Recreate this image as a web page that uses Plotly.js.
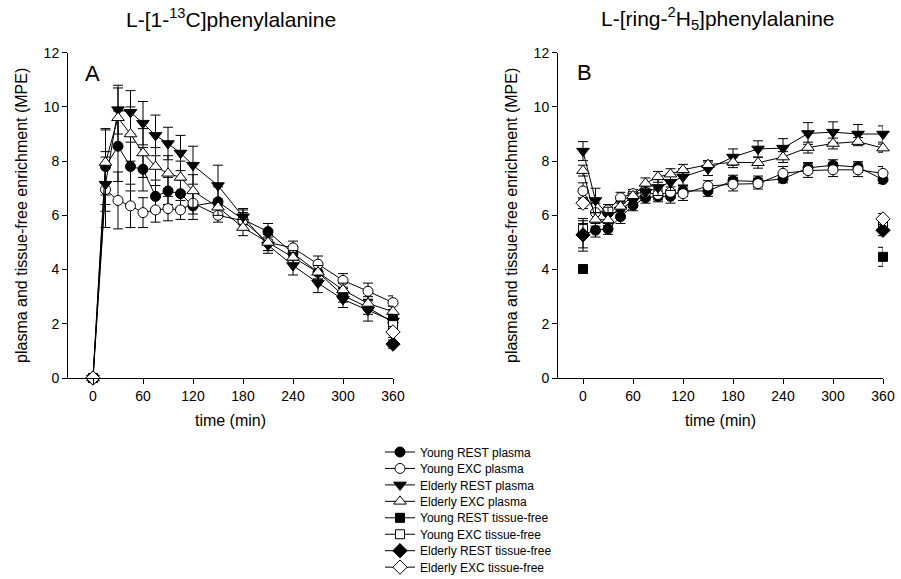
<!DOCTYPE html>
<html>
<head>
<meta charset="utf-8">
<script src="https://cdn.plot.ly/plotly-3.0.1.min.js"></script>
<style>html,body{margin:0;padding:0;background:#fff;}#chart{width:901px;height:579px;}</style>
</head>
<body>
<div id="chart"></div>
<script>
// ---- Data ----
const times = [0, 15, 30, 45, 60, 75, 90, 105, 120, 150, 180, 210, 240, 270, 300, 330, 360];
const tfTimes = [0, 360];
const xTicks = [0, 60, 120, 180, 240, 300, 360];
const yTicks = [0, 2, 4, 6, 8, 10, 12];

const seriesNames = ["Young REST plasma", "Young EXC plasma", "Elderly REST plasma", "Elderly EXC plasma",
  "Young REST tissue-free", "Young EXC tissue-free", "Elderly REST tissue-free", "Elderly EXC tissue-free"];

// Panel A: L-[1-13C]phenylalanine
const A_youngRest = [0, 7.8, 8.55, 7.8, 7.7, 6.7, 6.9, 6.8, 6.35, 6.5, 5.85, 5.4, 4.6, 3.9, 3.05, 2.6, 2.05];
const A_youngRestErr = [0, 1.4, 1.3, 0.9, 0.8, 0.6, 0.5, 0.5, 0.5, 0.55, 0.35, 0.3, 0.25, 0.25, 0.25, 0.25, 0.2];
const A_youngExc = [0, 6.95, 6.55, 6.35, 6.1, 6.2, 6.25, 6.2, 6.45, 6.0, 5.8, 5.0, 4.8, 4.2, 3.6, 3.2, 2.78];
const A_youngExcErr = [0, 1.4, 1.05, 0.8, 0.55, 0.45, 0.45, 0.35, 0.4, 0.25, 0.3, 0.3, 0.25, 0.3, 0.25, 0.3, 0.25];
const A_elderlyRest = [0, 7.15, 9.9, 9.8, 9.4, 8.95, 8.65, 8.3, 7.85, 7.1, 5.95, 4.9, 4.15, 3.5, 2.9, 2.5, 2.1];
const A_elderlyRestErr = [0, 1.0, 0.9, 0.8, 0.8, 0.75, 0.6, 0.65, 0.7, 0.75, 0.3, 0.3, 0.35, 0.35, 0.3, 0.4, 0.3];
const A_elderlyExc = [0, 7.95, 9.6, 9.0, 8.3, 7.8, 7.55, 7.4, 6.9, 6.3, 5.55, 5.0, 4.45, 3.9, 3.25, 2.75, 2.45];
const A_elderlyExcErr = [0, 1.2, 1.1, 1.0, 0.9, 0.7, 0.65, 0.6, 0.6, 0.3, 0.3, 0.3, 0.25, 0.25, 0.25, 0.25, 0.2];
const A_tfYoungRest = [0, 2.15];
const A_tfYoungRestErr = [0, 0.2];
const A_tfYoungExc = [0, 1.95];
const A_tfYoungExcErr = [0, 0.2];
const A_tfElderlyRest = [0, 1.25];
const A_tfElderlyRestErr = [0, 0.15];
const A_tfElderlyExc = [0, 1.7];
const A_tfElderlyExcErr = [0, 0.2];

// Panel B: L-[ring-2H5]phenylalanine
const B_youngRest = [5.3, 5.45, 5.5, 5.95, 6.37, 6.65, 6.7, 6.7, 6.9, 6.9, 7.28, 7.25, 7.35, 7.75, 7.85, 7.78, 7.32];
const B_youngRestErr = [0.5, 0.25, 0.2, 0.25, 0.2, 0.2, 0.2, 0.25, 0.2, 0.2, 0.2, 0.2, 0.15, 0.2, 0.2, 0.2, 0.15];
const B_youngExc = [6.9, 6.1, 6.2, 6.65, 6.8, 6.85, 6.77, 6.85, 6.8, 7.08, 7.15, 7.17, 7.55, 7.65, 7.68, 7.68, 7.55];
const B_youngExcErr = [0.3, 0.35, 0.2, 0.2, 0.15, 0.2, 0.2, 0.2, 0.25, 0.2, 0.25, 0.2, 0.25, 0.25, 0.25, 0.25, 0.25];
const B_elderlyRest = [8.37, 6.55, 6.0, 6.2, 6.55, 6.85, 7.03, 7.22, 7.42, 7.72, 8.15, 8.45, 8.48, 9.02, 9.07, 9.0, 9.0];
const B_elderlyRestErr = [0.35, 0.45, 0.3, 0.3, 0.25, 0.3, 0.3, 0.3, 0.3, 0.25, 0.3, 0.3, 0.35, 0.4, 0.38, 0.35, 0.3];
const B_elderlyExc = [7.65, 5.85, 5.83, 6.33, 6.72, 7.18, 7.42, 7.52, 7.68, 7.87, 7.96, 7.94, 8.15, 8.5, 8.65, 8.72, 8.48];
const B_elderlyExcErr = [0.2, 0.25, 0.2, 0.2, 0.15, 0.2, 0.2, 0.2, 0.2, 0.15, 0.2, 0.2, 0.2, 0.2, 0.2, 0.15, 0.15];
const B_tfYoungRest = [4.02, 4.47];
const B_tfYoungRestErr = [0.1, 0.35];
const B_tfYoungExc = [5.5, 5.6];
const B_tfYoungExcErr = [0.2, 0.2];
const B_tfElderlyRest = [5.28, 5.45];
const B_tfElderlyRestErr = [0.6, 0.2];
const B_tfElderlyExc = [6.45, 5.87];
const B_tfElderlyExcErr = [0.2, 0.2];

// ---- Styles ----
const FONT = "Arial, 'Liberation Sans', Helvetica, sans-serif";
const styles = [
  {symbol: 'circle', color: 'black', size: 10},
  {symbol: 'circle', color: 'white', size: 10},
  {symbol: 'triangle-down', color: 'black', size: 11},
  {symbol: 'triangle-up', color: 'white', size: 11},
  {symbol: 'square', color: 'black', size: 9},
  {symbol: 'square', color: 'white', size: 9},
  {symbol: 'diamond', color: 'black', size: 11},
  {symbol: 'diamond', color: 'white', size: 11}
];

function plasmaTrace(i, y, err, xa, ya, show) {
  const s = styles[i];
  return {
    type: 'scatter', mode: 'lines+markers', name: seriesNames[i],
    x: times, y: y, xaxis: xa, yaxis: ya, showlegend: show, legendgroup: 'g' + i,
    cliponaxis: false,
    line: {color: 'black', width: 1},
    marker: {symbol: s.symbol, color: s.color, size: s.size, line: {color: 'black', width: 1}},
    error_y: {type: 'data', array: err, visible: true, color: 'black', thickness: 1, width: 5}
  };
}
// tissue-free values exist only at the start and end; a null between them keeps them unconnected
function tfTrace(i, y, err, xa, ya, show) {
  const s = styles[i];
  return {
    type: 'scatter', mode: 'lines+markers', name: seriesNames[i],
    x: [tfTimes[0], tfTimes[1], tfTimes[1]], y: [y[0], null, y[1]],
    xaxis: xa, yaxis: ya, showlegend: show, legendgroup: 'g' + i,
    cliponaxis: false, connectgaps: false,
    line: {color: 'black', width: 1},
    marker: {symbol: s.symbol, color: s.color, size: s.size, line: {color: 'black', width: 1}},
    error_y: {type: 'data', array: [err[0], null, err[1]], visible: true, color: 'black', thickness: 1, width: 5}
  };
}

const data = [
  plasmaTrace(0, A_youngRest, A_youngRestErr, 'x', 'y', true),
  plasmaTrace(1, A_youngExc, A_youngExcErr, 'x', 'y', true),
  plasmaTrace(2, A_elderlyRest, A_elderlyRestErr, 'x', 'y', true),
  plasmaTrace(3, A_elderlyExc, A_elderlyExcErr, 'x', 'y', true),
  tfTrace(4, A_tfYoungRest, A_tfYoungRestErr, 'x', 'y', true),
  tfTrace(5, A_tfYoungExc, A_tfYoungExcErr, 'x', 'y', true),
  tfTrace(6, A_tfElderlyRest, A_tfElderlyRestErr, 'x', 'y', true),
  tfTrace(7, A_tfElderlyExc, A_tfElderlyExcErr, 'x', 'y', true),
  plasmaTrace(0, B_youngRest, B_youngRestErr, 'x2', 'y2', false),
  plasmaTrace(1, B_youngExc, B_youngExcErr, 'x2', 'y2', false),
  plasmaTrace(2, B_elderlyRest, B_elderlyRestErr, 'x2', 'y2', false),
  plasmaTrace(3, B_elderlyExc, B_elderlyExcErr, 'x2', 'y2', false),
  tfTrace(4, B_tfYoungRest, B_tfYoungRestErr, 'x2', 'y2', false),
  tfTrace(5, B_tfYoungExc, B_tfYoungExcErr, 'x2', 'y2', false),
  tfTrace(6, B_tfElderlyRest, B_tfElderlyRestErr, 'x2', 'y2', false),
  tfTrace(7, B_tfElderlyExc, B_tfElderlyExcErr, 'x2', 'y2', false)
];

const W = 901, H = 579;
const axisBase = {
  showline: true, linecolor: 'black', linewidth: 1, mirror: false,
  ticks: 'outside', ticklen: 5, tickwidth: 1, tickcolor: 'black',
  showgrid: false, zeroline: false, automargin: false,
  tickfont: {family: FONT, size: 14, color: 'black'}
};
const yDomain = [(H - 378) / H, (H - 52.7) / H];
const xTitle = {text: 'time (min)', font: {family: FONT, size: 16, color: 'black'}, standoff: 12};
const yTitle = {text: 'plasma and tissue-free enrichment (MPE)', font: {family: FONT, size: 16, color: 'black'}, standoff: 12};

const layout = {
  width: W, height: H,
  margin: {l: 0, r: 0, t: 0, b: 0, autoexpand: false},
  paper_bgcolor: 'white', plot_bgcolor: 'white',
  font: {family: FONT, color: 'black'},
  showlegend: true,
  legend: {x: 380 / W, xanchor: 'left', y: 1 - 425 / H, yanchor: 'top',
    font: {family: FONT, size: 12, color: 'black'}, bgcolor: 'rgba(0,0,0,0)', borderwidth: 0, tracegroupgap: 0},
  xaxis: Object.assign({}, axisBase, {domain: [68 / W, 393 / W], range: [-30, 360], tickvals: xTicks, anchor: 'y', title: xTitle}),
  yaxis: Object.assign({}, axisBase, {domain: yDomain, range: [0, 12], tickvals: yTicks, anchor: 'x', title: yTitle}),
  xaxis2: Object.assign({}, axisBase, {domain: [558 / W, 883 / W], range: [-30, 360], tickvals: xTicks, anchor: 'y2', title: xTitle}),
  yaxis2: Object.assign({}, axisBase, {domain: yDomain, range: [0, 12], tickvals: yTicks, anchor: 'x2', title: yTitle}),
  annotations: [
    {xref: 'paper', yref: 'paper', x: 231 / W, y: 1 - 18 / H, xanchor: 'center', yanchor: 'middle', showarrow: false,
     text: 'L-[1-<sup>13</sup>C]phenylalanine', font: {family: FONT, size: 21, color: 'black'}},
    {xref: 'paper', yref: 'paper', x: 717.5 / W, y: 1 - 18 / H, xanchor: 'center', yanchor: 'middle', showarrow: false,
     text: 'L-[ring-<sup>2</sup>H<sub>5</sub>]phenylalanine', font: {family: FONT, size: 21, color: 'black'}},
    {xref: 'paper', yref: 'paper', x: 92.5 / W, y: 1 - 73.5 / H, xanchor: 'center', yanchor: 'middle', showarrow: false,
     text: 'A', font: {family: FONT, size: 22, color: 'black'}},
    {xref: 'paper', yref: 'paper', x: 584.5 / W, y: 1 - 72.5 / H, xanchor: 'center', yanchor: 'middle', showarrow: false,
     text: 'B', font: {family: FONT, size: 22, color: 'black'}}
  ]
};

Plotly.newPlot('chart', data, layout, {staticPlot: true, displayModeBar: false}).then(function (gd) {
  // tighten legend row spacing to match the reference (about 16.4 px per row)
  const leg = gd.querySelector('g.legend');
  if (!leg) return;
  const re = /translate\(\s*([-\d.e]+)[ ,]+([-\d.e]+)\s*\)/;
  const lm = re.exec(leg.getAttribute('transform') || '');
  const ly = lm ? parseFloat(lm[2]) : 0;
  gd.querySelectorAll('g.legend g.traces').forEach(function (g, i) {
    const tm = re.exec(g.getAttribute('transform') || '');
    const tx = tm ? parseFloat(tm[1]) : 0;
    g.setAttribute('transform', 'translate(' + tx + ',' + (452 - ly + i * 16.45) + ')');
  });
});
</script>
</body>
</html>
